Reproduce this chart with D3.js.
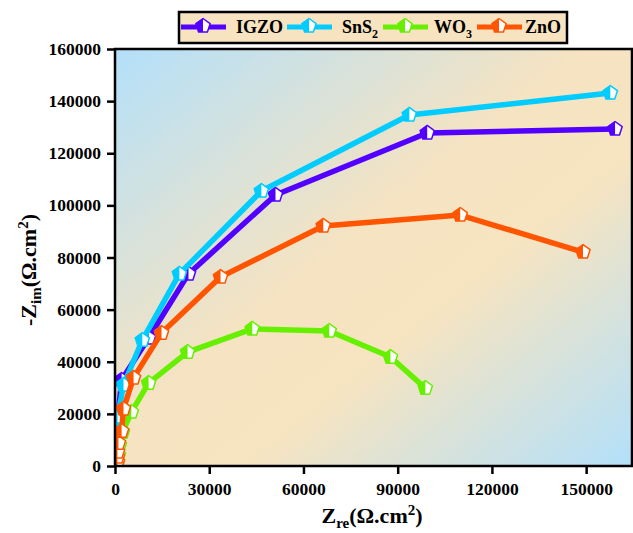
<!DOCTYPE html>
<html>
<head>
<meta charset="utf-8">
<script src="https://cdn.jsdelivr.net/npm/d3@7/dist/d3.min.js"></script>
<style>
  html, body { margin: 0; padding: 0; background: #fff; }
  svg text { font-family: "Liberation Serif", "Times New Roman", serif; font-weight: bold; }
</style>
</head>
<body>
<svg id="chart" width="633" height="533"></svg>
<script>
// Nyquist data: Z_re and -Z_im in Ω·cm²
const igzoRe = [200, 500, 800, 2100, 10700, 23400, 51100, 99400, 159200];
const igzoIm = [2300, 8000, 17600, 33000, 49100, 73700, 104000, 127800, 129300];

const sns2Re = [200, 500, 800, 2700, 8700, 20500, 46600, 93700, 157700];
const sns2Im = [3000, 10000, 18800, 31100, 48300, 73700, 105500, 134700, 143100];

const wo3Re = [800, 1100, 1400, 2400, 5200, 10700, 23100, 43700, 68200, 87700, 98800];
const wo3Im = [1500, 4200, 8000, 13000, 20700, 31800, 43700, 52600, 51800, 41800, 29900];

const znoRe = [800, 800, 800, 1100, 2100, 2700, 5900, 14800, 33600, 66300, 109900, 149000];
const znoIm = [1500, 3500, 5400, 8800, 13400, 21900, 33800, 51000, 72500, 92100, 96300, 82100];

const seriesNames = ["IGZO", "SnS2", "WO3", "ZnO"];
const seriesColors = ["#5200ff", "#00ccff", "#66f000", "#ff5500"];

const xTicks = [0, 30000, 60000, 90000, 120000, 150000];
const yTicks = [0, 20000, 40000, 60000, 80000, 100000, 120000, 140000, 160000];

const series = [
  { name: seriesNames[0], color: seriesColors[0], re: igzoRe, im: igzoIm },
  { name: seriesNames[1], color: seriesColors[1], re: sns2Re, im: sns2Im },
  { name: seriesNames[2], color: seriesColors[2], re: wo3Re, im: wo3Im },
  { name: seriesNames[3], color: seriesColors[3], re: znoRe, im: znoIm }
];

const svg = d3.select("#chart");
const m = { left: 115, right: 632, top: 49, bottom: 466 };

const x = d3.scaleLinear().domain([0, 164600]).range([m.left, m.right]);
const y = d3.scaleLinear().domain([0, 160000]).range([m.bottom, m.top]);

// Plot background: diagonal blue → peach → blue wash
const defs = svg.append("defs");
const grad = defs.append("linearGradient")
  .attr("id", "bg").attr("x1", "0%").attr("y1", "0%").attr("x2", "100%").attr("y2", "100%");
grad.append("stop").attr("offset", "0%").attr("stop-color", "#b3e0fa");
grad.append("stop").attr("offset", "45%").attr("stop-color", "#f5e3c2");
grad.append("stop").attr("offset", "62%").attr("stop-color", "#f7e4c0");
grad.append("stop").attr("offset", "100%").attr("stop-color", "#b3e0fa");

svg.append("rect")
  .attr("x", m.left).attr("y", m.top)
  .attr("width", m.right - m.left).attr("height", m.bottom - m.top)
  .attr("fill", "url(#bg)");

// Half-filled pentagon marker (left half coloured, right half white)
const R = 7.5;
const pent = d3.range(5).map(i => {
  const a = -Math.PI / 2 + i * 2 * Math.PI / 5;
  return [R * Math.cos(a), R * Math.sin(a)];
});
const pentPath = "M" + pent.map(p => p.join(",")).join("L") + "Z";
const leftHalf = `M0,${-R}L${pent[4][0]},${pent[4][1]}L${pent[3][0]},${pent[3][1]}L0,${pent[3][1]}Z`;

function drawMarker(g, cx, cy, color) {
  const mk = g.append("g").attr("transform", `translate(${cx},${cy})`);
  mk.append("path").attr("d", pentPath).attr("fill", "#fff");
  mk.append("path").attr("d", leftHalf).attr("fill", color);
  mk.append("path").attr("d", pentPath).attr("fill", "none")
    .attr("stroke", color).attr("stroke-width", 1.5).attr("stroke-linejoin", "round");
}

const plot = svg.append("g");
plot.append("clipPath").attr("id", "clip").append("rect")
  .attr("x", m.left).attr("y", m.top - 10)
  .attr("width", m.right - m.left + 10).attr("height", m.bottom - m.top + 10);

const line = d3.line().x(d => x(d[0])).y(d => y(d[1]));

series.forEach(s => {
  const pts = s.re.map((v, i) => [v, s.im[i]]);
  const g = plot.append("g").attr("clip-path", "url(#clip)");
  g.append("path").datum(pts).attr("d", line)
    .attr("fill", "none").attr("stroke", s.color)
    .attr("stroke-width", 5.5).attr("stroke-linejoin", "round");
  pts.forEach(p => drawMarker(g, x(p[0]), y(p[1]), s.color));
});

// Frame
svg.append("rect")
  .attr("x", m.left).attr("y", m.top)
  .attr("width", m.right - m.left).attr("height", m.bottom - m.top)
  .attr("fill", "none").attr("stroke", "#000").attr("stroke-width", 2.5);

// Axes
const xAxis = svg.append("g").attr("transform", `translate(0,${m.bottom})`)
  .call(d3.axisBottom(x).tickValues(xTicks).tickSize(8).tickPadding(9).tickFormat(d3.format("d")));
const yAxis = svg.append("g").attr("transform", `translate(${m.left},0)`)
  .call(d3.axisLeft(y).tickValues(yTicks).tickSize(8).tickPadding(6).tickFormat(d3.format("d")));
[xAxis, yAxis].forEach(a => {
  a.select(".domain").remove();
  a.selectAll(".tick line").attr("stroke", "#000").attr("stroke-width", 2.5);
  a.selectAll(".tick text").attr("fill", "#000")
    .style("font-family", '"Liberation Serif", serif').style("font-weight", "bold").style("font-size", "17.5px");
});

// Axis titles
const xt = svg.append("text").attr("x", 372).attr("y", 523)
  .attr("text-anchor", "middle").style("font-size", "22px").attr("fill", "#000");
xt.append("tspan").text("Z");
xt.append("tspan").attr("dy", 5).style("font-size", "15px").text("re");
xt.append("tspan").attr("dy", -5).text("(Ω.cm");
xt.append("tspan").attr("dy", -8).style("font-size", "15px").text("2");
xt.append("tspan").attr("dy", 8).text(")");

const yt = svg.append("text").attr("transform", `translate(36,270) rotate(-90)`)
  .attr("text-anchor", "middle").style("font-size", "22px").attr("fill", "#000");
yt.append("tspan").text("-Z");
yt.append("tspan").attr("dy", 5).style("font-size", "15px").text("im");
yt.append("tspan").attr("dy", -5).text("(Ω.cm");
yt.append("tspan").attr("dy", -8).style("font-size", "15px").text("2");
yt.append("tspan").attr("dy", 8).text(")");

// Legend
const lg = svg.append("g");
lg.append("rect").attr("x", 179).attr("y", 12).attr("width", 388).attr("height", 31)
  .attr("fill", "#f7e3c0").attr("stroke", "#000").attr("stroke-width", 2.5);
const legendItems = [
  { x0: 181, tx: 236, sub: null, base: "IGZO" },
  { x0: 287, tx: 342, sub: "2", base: "SnS" },
  { x0: 383, tx: 434, sub: "3", base: "WO" },
  { x0: 477, tx: 525, sub: null, base: "ZnO" }
];
legendItems.forEach((it, i) => {
  const c = series[i].color;
  lg.append("line").attr("x1", it.x0).attr("x2", it.x0 + 45).attr("y1", 27).attr("y2", 27)
    .attr("stroke", c).attr("stroke-width", 5);
  drawMarker(lg, it.x0 + 22, 26, c);
  const t = lg.append("text").attr("x", it.tx).attr("y", 33).style("font-size", "18px").attr("fill", "#000");
  t.append("tspan").text(it.base);
  if (it.sub) t.append("tspan").attr("dy", 5).style("font-size", "12px").text(it.sub);
});
</script>
</body>
</html>
